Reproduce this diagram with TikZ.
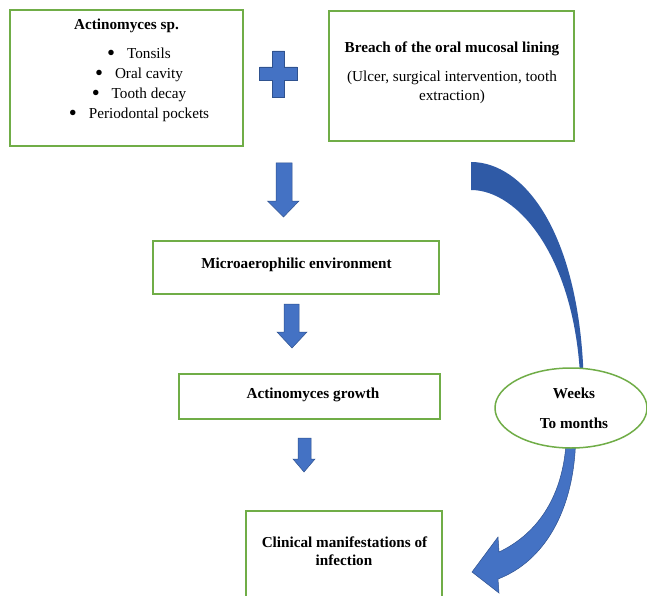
\documentclass[tikz,border=0pt]{standalone}
\usepackage{fontspec}
\setmainfont{Liberation Serif}
\usetikzlibrary{shapes.geometric}
\definecolor{boxgreen}{HTML}{70AD47}
\definecolor{arrowblue}{HTML}{4472C4}
\definecolor{arrowedge}{HTML}{2F528F}
\definecolor{curveblue}{HTML}{2F5AA6}
\newcommand{\bigbul}{\raisebox{-1.8pt}{\scalebox{1.5}{\textbullet}}}
\begin{document}
\begin{tikzpicture}[x=1pt,y=-1pt,
  box/.style={draw=boxgreen, line width=1.5pt, rectangle, inner sep=0pt, fill=white},
  txt/.style={inner sep=0pt, anchor=base, font=\fontsize{15.2}{18}\selectfont},
  btxt/.style={txt, font=\fontsize{15.2}{18}\selectfont\bfseries},
  blockarrow/.style={fill=arrowblue, draw=arrowedge, line width=0.5pt, line join=miter}]
\useasboundingbox (0,0) rectangle (647,596);
\clip (0,0) rectangle (647,596);
\fill[white] (0,0) rectangle (647,596);

% boxes
\node[box, minimum width=233pt, minimum height=136pt] (b1) at (126.5,78) {};
\node[box, minimum width=245pt, minimum height=130pt] (b2) at (451.5,76) {};
\node[box, minimum width=286pt, minimum height=53pt] (b3) at (296,267.5) {};
\node[box, minimum width=261pt, minimum height=45pt] (b4) at (309.5,396.5) {};
\node[box, minimum width=196pt, minimum height=109pt] (b5) at (344,565.5) {};

% texts box 1
\node[btxt] (t1) at (126.5,30) {Actinomyces sp.};
\node[txt] (t1a) at (139,59) {\bigbul\hspace{12pt}Tonsils};
\node[txt] (t1b) at (139,79) {\bigbul\hspace{12pt}Oral cavity};
\node[txt] (t1c) at (139,99) {\bigbul\hspace{12pt}Tooth decay};
\node[txt] (t1d) at (139,119) {\bigbul\hspace{12pt}Periodontal pockets};

% texts box 2
\node[btxt] (t2) at (452,53) {Breach of the oral mucosal lining};
\node[txt] (t2a) at (452,82) {(Ulcer, surgical intervention, tooth};
\node[txt] (t2b) at (452,101) {extraction)};

\node[btxt] (t3) at (296.5,268) {Microaerophilic environment};
\node[btxt] (t4) at (313,398) {Actinomyces growth};
\node[btxt] (t5) at (344.5,547) {Clinical manifestations of};
\node[btxt] (t5b) at (344,565) {infection};

% plus sign
\path[blockarrow] (272.5,51) -- (284.5,51) -- (284.5,67) -- (297,67) -- (297,80)
  -- (284.5,80) -- (284.5,97) -- (272.5,97) -- (272.5,80) -- (259.5,80)
  -- (259.5,67) -- (272.5,67) -- cycle;

% straight block arrows
\path[blockarrow] (276,163) -- (292,163) -- (292,201) -- (299,201) -- (283.5,217)
  -- (267.5,201) -- (276,201) -- cycle;
\path[blockarrow] (284,304) -- (299,304) -- (299,332) -- (307,332) -- (292,348)
  -- (277,332) -- (284,332) -- cycle;
\path[blockarrow] (298,438) -- (311,438) -- (311,459) -- (315,459) -- (304,472)
  -- (293,459) -- (298,459) -- cycle;

% curved arrow, upper part
\fill[curveblue] (471,162) .. controls (524,162) and (578,232) .. (583.5,374)
  -- (580,374) .. controls (573,256) and (518,190) .. (471,190) -- cycle;

% curved arrow, lower part
\path[blockarrow] (566,444) .. controls (562,500) and (535,535) .. (499,552)
  -- (498,537) -- (472,572) -- (499,593) -- (498,579)
  .. controls (545,561) and (573,510) .. (575.5,444) -- cycle;

% ellipse
\node[draw=boxgreen, line width=1.5pt, fill=white, ellipse, inner sep=0pt,
  minimum width=152pt, minimum height=80pt] (ell) at (571,408) {};
\node[btxt] (w1) at (574,398) {Weeks};
\node[btxt] (w2) at (574,428) {To months};
\end{tikzpicture}
\end{document}
